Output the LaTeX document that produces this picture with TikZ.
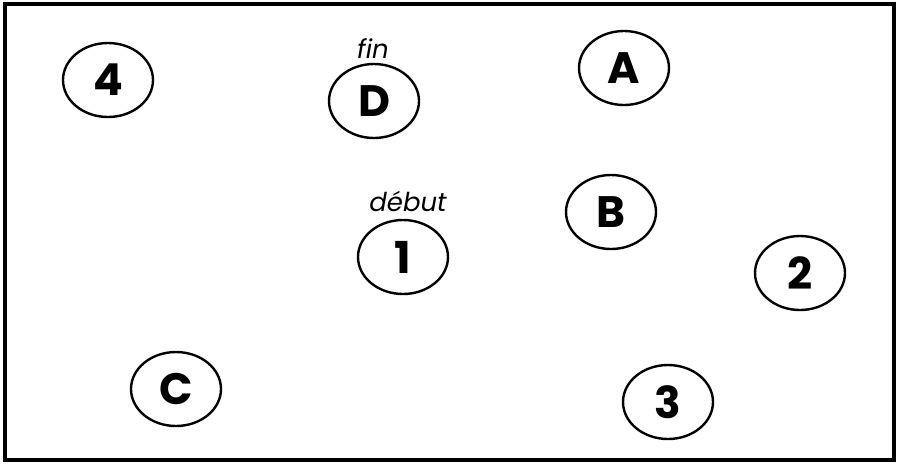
\documentclass[tikz,border=0pt]{standalone}
\usepackage{fontspec}
\setmainfont{Poppins}
\usetikzlibrary{shapes.geometric}
\begin{document}
\begin{tikzpicture}[x=1pt,y=-1pt,
  state/.style={ellipse,draw,line width=2.4pt,minimum width=90pt,minimum height=74pt,inner sep=0pt,font=\fontsize{44}{46}\selectfont\bfseries},
  tag/.style={inner sep=0pt,font=\fontsize{26}{28}\selectfont\itshape}]
\useasboundingbox (0,0) rectangle (898,467);
\draw[line width=3.5pt] (5,4) rectangle (894,460);
\node[state] (n4) at (108,80) {4};
\node[state] (nD) at (374,101) {D};
\node[state] (nA) at (624,68) {A};
\node[state] (nB) at (611,212) {B};
\node[state] (n1) at (403,257) {1};
\node[state] (n2) at (800,273) {2};
\node[state] (nC) at (176,389) {C};
\node[state] (n3) at (668,402) {3};
\node[tag] (fin) at (373,49) {fin};
\node[tag] (debut) at (408,201) {début};
\end{tikzpicture}
\end{document}
